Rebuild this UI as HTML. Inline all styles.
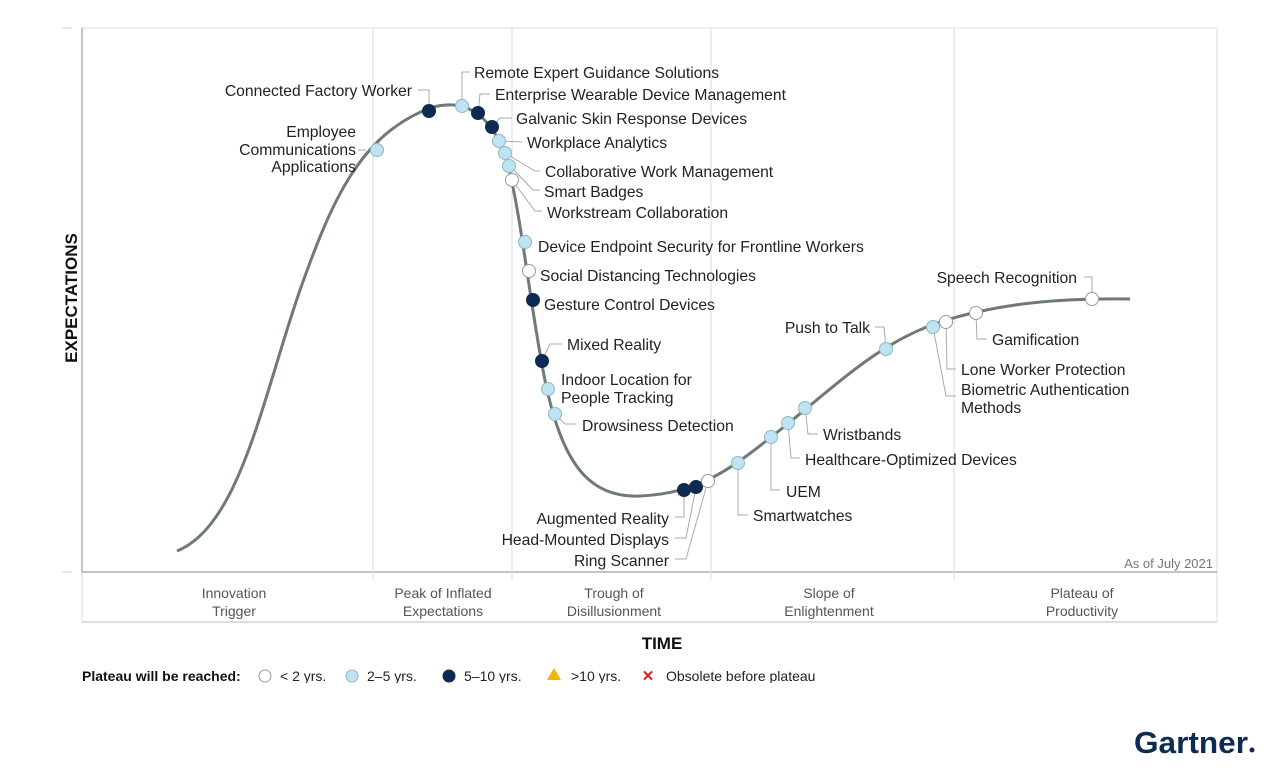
<!DOCTYPE html>
<html><head><meta charset="utf-8"><style>
html,body{margin:0;padding:0;background:#fff;width:1280px;height:768px;overflow:hidden}
svg{display:block;font-family:"Liberation Sans",sans-serif}
.t{font-size:15.7px;fill:#222}
.p{font-size:14px;fill:#555;text-anchor:middle}
.l{fill:none;stroke:#aaa;stroke-width:1}
.a{fill:#bfe3f1;stroke:#8fb8c8;stroke-width:1}
.d{fill:#0c2a52;stroke:#0c2a52;stroke-width:1}
.w{fill:#fff;stroke:#999;stroke-width:1}
</style></head><body>
<svg width="1280" height="768" viewBox="0 0 1280 768">
<rect x="82" y="28" width="1135" height="594" fill="#fff" stroke="#ddd"/>
<line x1="82" y1="28" x2="82" y2="572" stroke="#888"/>
<line x1="82" y1="572" x2="1217" y2="572" stroke="#888"/>
<line x1="82" y1="622" x2="1217" y2="622" stroke="#ddd" stroke-width="2"/>
<line x1="62" y1="28" x2="72" y2="28" stroke="#ccc"/>
<line x1="62" y1="572" x2="72" y2="572" stroke="#ccc"/>
<g stroke="#ddd"><line x1="373" y1="28" x2="373" y2="580"/><line x1="512" y1="28" x2="512" y2="580"/><line x1="711" y1="28" x2="711" y2="580"/><line x1="954" y1="28" x2="954" y2="580"/></g>
<text x="1213" y="568" font-size="13" fill="#777" text-anchor="end">As of July 2021</text>
<text class="p" x="234" y="598">Innovation</text><text class="p" x="234" y="616">Trigger</text>
<text class="p" x="443" y="598">Peak of Inflated</text><text class="p" x="443" y="616">Expectations</text>
<text class="p" x="614" y="598">Trough of</text><text class="p" x="614" y="616">Disillusionment</text>
<text class="p" x="829" y="598">Slope of</text><text class="p" x="829" y="616">Enlightenment</text>
<text class="p" x="1082" y="598">Plateau of</text><text class="p" x="1082" y="616">Productivity</text>
<text x="662" y="649" font-size="17" font-weight="bold" text-anchor="middle" fill="#111">TIME</text>
<text transform="translate(77,298) rotate(-90)" font-size="17" font-weight="bold" text-anchor="middle" fill="#111">EXPECTATIONS</text>
<path d="M177,551 C240,525 262,400 300,290 C332,200 360,135 430,108 C470,96 495,120 508,165 C522,220 532,320 546,385 C563,465 590,498 640,496 C700,493 730,470 780,430 C840,382 880,342 940,322 C1000,303 1060,298 1130,299" fill="none" stroke="#6f7a78" stroke-width="3"/>
<g class="l">
<polyline points="429,110 429,90 418,90"/>
<polyline points="462,106 462,72 470,72"/>
<polyline points="478,113 480,94 490,94"/>
<polyline points="492,127 500,118 512,118"/>
<polyline points="499,141 522,142"/>
<polyline points="505,153 535,171 540,171"/>
<polyline points="509,165 533,190 540,190"/>
<polyline points="512,180 535,211 542,211"/>
<polyline points="366,150 358,150"/>
<polyline points="542,361 550,344 562,344"/>
<polyline points="555,414 565,424 576,424"/>
<polyline points="684,490 684,517 675,517"/>
<polyline points="696,487 686,538 675,538"/>
<polyline points="708,481 686,559 675,559"/>
<polyline points="738,463 738,515 748,515"/>
<polyline points="771,437 771,490 780,490"/>
<polyline points="788,423 791,458 800,458"/>
<polyline points="805,407 808,434 818,434"/>
<polyline points="886,349 884,327 875,327"/>
<polyline points="933,327 946,396 956,396"/>
<polyline points="946,322 947,369 956,369"/>
<polyline points="976,313 977,339 987,339"/>
<polyline points="1092,299 1092,277 1084,277"/>
</g>
<circle class="a" cx="377" cy="150" r="6.5"/>
<circle class="d" cx="429" cy="111" r="6.5"/>
<circle class="a" cx="462" cy="106" r="6.5"/>
<circle class="d" cx="478" cy="113" r="6.5"/>
<circle class="d" cx="492" cy="127" r="6.5"/>
<circle class="a" cx="499" cy="141" r="6.5"/>
<circle class="a" cx="505" cy="153" r="6.5"/>
<circle class="a" cx="509" cy="166" r="6.5"/>
<circle class="w" cx="512" cy="180" r="6.5"/>
<circle class="a" cx="525" cy="242" r="6.5"/>
<circle class="w" cx="529" cy="271" r="6.5"/>
<circle class="d" cx="533" cy="300" r="6.5"/>
<circle class="d" cx="542" cy="361" r="6.5"/>
<circle class="a" cx="548" cy="389" r="6.5"/>
<circle class="a" cx="555" cy="414" r="6.5"/>
<circle class="d" cx="684" cy="490" r="6.5"/>
<circle class="d" cx="696" cy="487" r="6.5"/>
<circle class="w" cx="708" cy="481" r="6.5"/>
<circle class="a" cx="738" cy="463" r="6.5"/>
<circle class="a" cx="771" cy="437" r="6.5"/>
<circle class="a" cx="788" cy="423" r="6.5"/>
<circle class="a" cx="805" cy="408" r="6.5"/>
<circle class="a" cx="886" cy="349" r="6.5"/>
<circle class="a" cx="933" cy="327" r="6.5"/>
<circle class="w" cx="946" cy="322" r="6.5"/>
<circle class="w" cx="976" cy="313" r="6.5"/>
<circle class="w" cx="1092" cy="299" r="6.5"/>
<text class="t" x="412" y="96" text-anchor="end">Connected Factory Worker</text>
<text class="t" x="474" y="78">Remote Expert Guidance Solutions</text>
<text class="t" x="495" y="100">Enterprise Wearable Device Management</text>
<text class="t" x="516" y="124">Galvanic Skin Response Devices</text>
<text class="t" x="527" y="148">Workplace Analytics</text>
<text class="t" x="545" y="177">Collaborative Work Management</text>
<text class="t" x="544" y="197">Smart Badges</text>
<text class="t" x="547" y="218">Workstream Collaboration</text>
<text class="t" x="356" y="137" text-anchor="end">Employee</text>
<text class="t" x="356" y="155" text-anchor="end">Communications</text>
<text class="t" x="356" y="172" text-anchor="end">Applications</text>
<text class="t" x="538" y="252">Device Endpoint Security for Frontline Workers</text>
<text class="t" x="540" y="281">Social Distancing Technologies</text>
<text class="t" x="544" y="310">Gesture Control Devices</text>
<text class="t" x="567" y="350">Mixed Reality</text>
<text class="t" x="561" y="385">Indoor Location for</text>
<text class="t" x="561" y="403">People Tracking</text>
<text class="t" x="582" y="431">Drowsiness Detection</text>
<text class="t" x="669" y="524" text-anchor="end">Augmented Reality</text>
<text class="t" x="669" y="545" text-anchor="end">Head-Mounted Displays</text>
<text class="t" x="669" y="566" text-anchor="end">Ring Scanner</text>
<text class="t" x="753" y="521">Smartwatches</text>
<text class="t" x="786" y="497">UEM</text>
<text class="t" x="805" y="465">Healthcare-Optimized Devices</text>
<text class="t" x="823" y="440">Wristbands</text>
<text class="t" x="870" y="333" text-anchor="end">Push to Talk</text>
<text class="t" x="961" y="375">Lone Worker Protection</text>
<text class="t" x="961" y="395">Biometric Authentication</text>
<text class="t" x="961" y="413">Methods</text>
<text class="t" x="992" y="345">Gamification</text>
<text class="t" x="1077" y="283" text-anchor="end">Speech Recognition</text>
<text x="82" y="681" font-size="14" font-weight="bold" fill="#111">Plateau will be reached:</text>
<circle cx="265" cy="676" r="6" fill="#fff" stroke="#999"/>
<text x="280" y="681" font-size="14" fill="#222">&lt; 2 yrs.</text>
<circle cx="352" cy="676" r="6" class="a"/>
<text x="367" y="681" font-size="14" fill="#222">2–5 yrs.</text>
<circle cx="449" cy="676" r="6" class="d"/>
<text x="464" y="681" font-size="14" fill="#222">5–10 yrs.</text>
<polygon points="554,668 561,680 547,680" fill="#f4b400"/>
<text x="571" y="681" font-size="14" fill="#222">&gt;10 yrs.</text>
<text x="648" y="681" font-size="15" font-weight="bold" fill="#e02020" text-anchor="middle">✕</text>
<text x="666" y="681" font-size="14" fill="#222">Obsolete before plateau</text>
<rect x="0" y="683" width="900" height="10" fill="#fff"/>
<text x="1134" y="753" font-size="31" font-weight="bold" fill="#0c2a52" textLength="114" lengthAdjust="spacingAndGlyphs">Gartner</text>
<circle cx="1252" cy="750" r="2.5" fill="#0c2a52"/>
</svg>
</body></html>
